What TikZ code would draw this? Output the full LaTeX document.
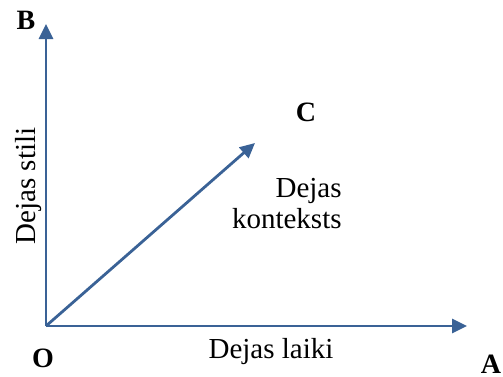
\documentclass[tikz,border=0pt]{standalone}
\usepackage{fontspec}
\setmainfont{Liberation Serif}
\usetikzlibrary{arrows.meta}
\definecolor{axisblue}{RGB}{58,98,150}
\begin{document}
\begin{tikzpicture}[x=0.5pt,y=-0.5pt,
  axis/.style={draw=axisblue,line width=1.4pt,-{Triangle[length=7.5pt,width=7pt]}},
  lbl/.style={font=\rmfamily\fontsize{14.5}{15.5}\selectfont,inner sep=0pt},
  ptlbl/.style={font=\rmfamily\fontsize{14}{16}\selectfont\bfseries,inner sep=0pt}]
\useasboundingbox (0,0) rectangle (503,376);
\coordinate (O) at (46,326);
\coordinate (Btip) at (46,24);
\coordinate (Atip) at (467,326);
\coordinate (Ctip) at (255,143);
\draw[axis] (O) -- (Btip);
\draw[axis] (O) -- (Atip);
\draw[axis] (O) -- (Ctip);
\node[ptlbl] (B) at (26,20) {B};
\node[ptlbl] (Olbl) at (43,358) {O};
\node[ptlbl] (A) at (491,364) {A};
\node[ptlbl] (C) at (306,112) {C};
\node[lbl,anchor=base] (laiki) at (271,358) {Dejas laiki};
\node[lbl,anchor=base,rotate=90] (stili) at (35,186) {Dejas stili};
\node[lbl,align=right,anchor=base east] (konteksts) at (342,228) {Dejas\\konteksts};
\end{tikzpicture}
\end{document}
